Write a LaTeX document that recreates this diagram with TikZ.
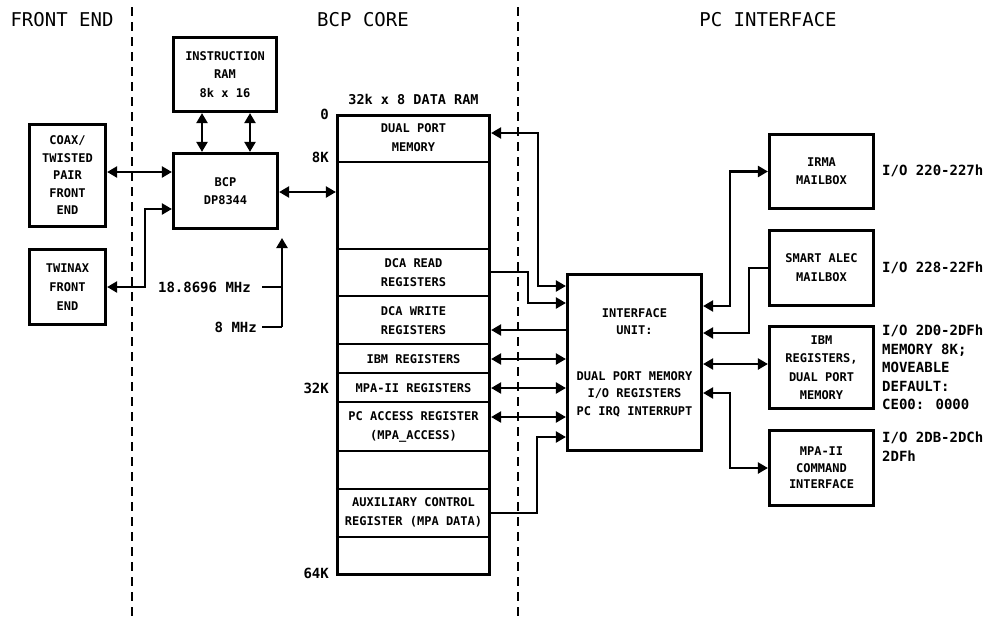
\documentclass[tikz,border=0pt]{standalone}
\usepackage{fontspec}
\setmainfont{DejaVu Sans Mono}
\usetikzlibrary{arrows.meta}
\begin{document}
\begin{tikzpicture}[x=1pt,y=-1pt,
  box/.style={draw, line width=3.2pt, minimum width=104pt, inner sep=0pt, align=center,
    font=\fontsize{12}{18.5}\selectfont\bfseries},
  celltext/.style={align=center, inner sep=0pt, font=\fontsize{12}{19}\selectfont\bfseries},
  title/.style={inner sep=0pt, font=\fontsize{19}{21}\selectfont},
  side/.style={anchor=west, align=left, inner sep=0pt, font=\fontsize{14}{18.5}\selectfont\bfseries},
  addr/.style={anchor=east, inner sep=0pt, font=\fontsize{14}{16}\selectfont\bfseries},
  divider/.style={line width=2pt},
  dashline/.style={line width=2pt, dash pattern=on 9pt off 6pt},
  conn/.style={line width=2.3pt},
  tip/.tip={Triangle[length=10pt,width=11pt]},
  arr/.style={conn, -tip},
  biarr/.style={conn, tip-tip},
  plain/.style={conn}
]
\useasboundingbox (0,0) rectangle (990,616);

% titles
\node[title] (tfe) at (62,20) {FRONT END};
\node[title] (tbcp) at (363,20) {BCP CORE};
\node[title] (tpc) at (768,20) {PC INTERFACE};

% dashed separators
\draw[dashline] (132,7) -- (132,616);
\draw[dashline] (518,7) -- (518,616);

% front end / BCP boxes
\node[box, minimum width=103pt, minimum height=74pt] (iram) at (225,74.5) {INSTRUCTION\\RAM\\8k x 16};
\node[box, minimum width=76pt, minimum height=102pt, font=\fontsize{12}{17.5}\selectfont\bfseries] (coax) at (67.5,175.5) {COAX/\\TWISTED\\PAIR\\FRONT\\END};
\node[box, minimum width=104pt, minimum height=75pt] (bcp) at (225.5,191) {BCP\\DP8344};
\node[box, minimum width=76pt, minimum height=75pt, font=\fontsize{12}{19}\selectfont\bfseries] (twinax) at (67.5,287) {TWINAX\\FRONT\\END};

% data RAM
\node[celltext, font=\fontsize{13.5}{15}\selectfont\bfseries] (ramtitle) at (413.5,99) {32k x 8 DATA RAM};
\node[box, minimum width=152pt, minimum height=459pt] (ram) at (413.5,345) {};
\foreach \yy in {162,249,296,344,373,402,451,489,537}
  \draw[divider] (ram.west |- 0,\yy) -- (ram.east |- 0,\yy);
\node[celltext] (c1) at (413.5,138) {DUAL PORT\\MEMORY};
\node[celltext] (c2) at (413.5,272.5) {DCA READ\\REGISTERS};
\node[celltext] (c3) at (413.5,321) {DCA WRITE\\REGISTERS};
\node[celltext] (c4) at (413.5,359) {IBM REGISTERS};
\node[celltext] (c5) at (413.5,388) {MPA-II REGISTERS};
\node[celltext] (c6) at (413.5,426.5) {PC ACCESS REGISTER\\(MPA\_ACCESS)};
\node[celltext] (c7) at (413.5,512.5) {AUXILIARY CONTROL\\REGISTER (MPA DATA)};

\node[addr] (a0) at (329,114) {0};
\node[addr] (a8) at (329,157) {8K};
\node[addr] (a32) at (329,388) {32K};
\node[addr] (a64) at (329,573) {64K};

% clocks
\coordinate (clkcorner) at (282,327);
\coordinate (clktip) at (282,238);
\coordinate (clkA) at (262,287);
\coordinate (clkA2) at (282,287);
\coordinate (clkB) at (262,327);
\node[addr] (f1) at (251,287) {18.8696 MHz};
\node[addr] (f2) at (257,327) {8 MHz};
\draw[arr] (clkcorner) -- (clktip);
\draw[plain] (clkA) -- (clkA2);
\draw[plain] (clkB) -- (clkcorner);

% interface unit
\node[box, minimum width=134pt, minimum height=176pt, font=\fontsize{12}{17.5}\selectfont\bfseries] (iface) at (634.5,362.5)
  {INTERFACE\\UNIT:\\[28pt]DUAL PORT MEMORY\\I/O REGISTERS\\PC IRQ INTERRUPT};

% PC side boxes
\node[box, minimum height=74pt, font=\fontsize{12}{18}\selectfont\bfseries] (irma) at (821.5,171.5) {IRMA\\MAILBOX};
\node[box, minimum height=75pt, font=\fontsize{12}{19}\selectfont\bfseries] (smart) at (821.5,268) {SMART ALEC\\MAILBOX};
\node[box, minimum height=82pt] (ibm) at (821.5,367.5) {IBM\\REGISTERS,\\DUAL PORT\\MEMORY};
\node[box, minimum height=75pt, font=\fontsize{12}{16.5}\selectfont\bfseries] (mpa) at (821.5,468) {MPA-II\\COMMAND\\INTERFACE};

\node[side] (s1) at (882,171) {I/O 220-227h};
\node[side] (s2) at (882,268) {I/O 228-22Fh};
\node[side, anchor=north west] (s3) at (882,325) {I/O 2D0-2DFh\\MEMORY 8K;\\MOVEABLE\\DEFAULT:\\CE00: 0000};
\node[side, anchor=north west] (s4) at (882,432) {I/O 2DB-2DCh\\2DFh};

% connectors: front end / BCP
\draw[biarr] (iram.south -| 202,0) -- (bcp.north -| 202,0);
\draw[biarr] (iram.south -| 250,0) -- (bcp.north -| 250,0);
\draw[biarr] (coax.east |- 0,172) -- (bcp.west |- 0,172);
\coordinate (twbend) at (145,250);
\draw[biarr] (bcp.west |- 0,209) -| (twbend) |- (twinax.east);
\draw[biarr] (bcp.east |- 0,192) -- (ram.west |- 0,192);

% RAM <-> interface
\coordinate (b1) at (538,286);
\coordinate (b2) at (528,303);
\coordinate (b3) at (537,437);
\draw[biarr] (ram.east |- 0,133) -| (b1) -- (iface.west |- b1);
\draw[arr] (ram.east |- 0,272) -| (b2) -- (iface.west |- b2);
\draw[arr] (iface.west |- 0,330) -- (ram.east |- 0,330);
\draw[biarr] (iface.west |- 0,359) -- (ram.east |- 0,359);
\draw[biarr] (iface.west |- 0,388) -- (ram.east |- 0,388);
\draw[biarr] (iface.west |- 0,417) -- (ram.east |- 0,417);
\draw[arr] (ram.east |- 0,513) -| (b3) -- (iface.west |- b3);

% interface <-> PC side
\coordinate (p1) at (730,171.5);
\coordinate (p2) at (749,333);
\coordinate (p3) at (730,468);
\draw[biarr] (iface.east |- 0,306) -| (p1) -- (irma.west);
\draw[arr] (smart.west) -| (p2) -- (iface.east |- p2);
\draw[biarr] (iface.east |- 0,364) -- (ibm.west |- 0,364);
\draw[biarr] (iface.east |- 0,393) -| (p3) -- (mpa.west);
\end{tikzpicture}
\end{document}
